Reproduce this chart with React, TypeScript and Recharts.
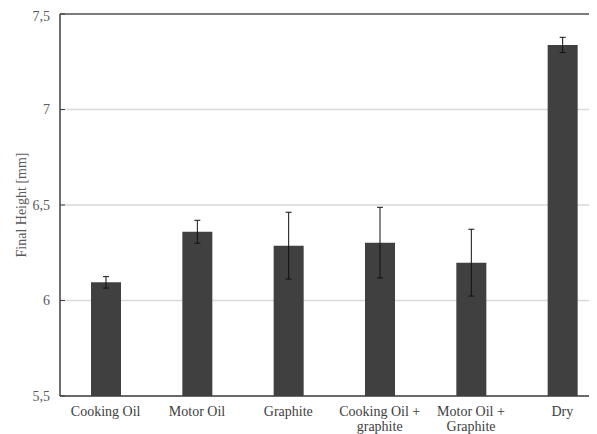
import React from "react";
import {
  BarChart,
  Bar,
  XAxis,
  YAxis,
  CartesianGrid,
  ErrorBar,
  ReferenceLine,
} from "recharts";

const categories = [
  "Cooking Oil",
  "Motor Oil",
  "Graphite",
  "Cooking Oil +\ngraphite",
  "Motor Oil +\nGraphite",
  "Dry",
];
const finalHeight = [6.095, 6.36, 6.287, 6.303, 6.198, 7.338];
const stdDev = [0.03, 0.06, 0.175, 0.185, 0.175, 0.04];
const yTicks = [5.5, 6, 6.5, 7, 7.5];

const data = categories.map((name, i) => ({
  name,
  height: finalHeight[i],
  err: stdDev[i],
}));

const FONT = "'Times New Roman', Tinos, 'Liberation Serif', 'DejaVu Serif', serif";

const fmt = (v: number) => String(v).replace(".", ",");

const CategoryTick = (props: any) => {
  const { x, y, payload } = props;
  const lines = String(payload.value).split("\n");
  return (
    <g transform={`translate(${x},${y})`}>
      {lines.map((line, i) => (
        <text
          key={i}
          x={0}
          y={12 + i * 15}
          textAnchor="middle"
          fill="#404040"
          fontSize={14}
          fontFamily={FONT}
        >
          {line}
        </text>
      ))}
    </g>
  );
};

const App = () => {
  return (
    <div style={{ width: 589, height: 426, overflow: "hidden" }}>
      <BarChart
        width={602}
        height={426}
        data={data}
        margin={{ top: 6, right: 2, left: 0, bottom: 0 }}
        barSize={30}
      >
        <CartesianGrid vertical={false} stroke="#d9d9d9" strokeWidth={1.5} />
        <XAxis
          dataKey="name"
          height={38}
          tickLine={false}
          axisLine={{ stroke: "#404040", strokeWidth: 1.5 }}
          interval={0}
          tick={<CategoryTick />}
        />
        <YAxis
          width={52}
          domain={[5.5, 7.5]}
          ticks={yTicks}
          tickFormatter={fmt}
          tickSize={-5}
          tickMargin={15}
          tickLine={{ stroke: "#404040" }}
          axisLine={{ stroke: "#404040", strokeWidth: 1.5 }}
          tick={{ fill: "#595959", fontSize: 14, fontFamily: FONT }}
          label={{
            value: "Final Height [mm]",
            angle: -90,
            position: "insideLeft",
            offset: 0,
            dx: 13,
            fill: "#595959",
            fontSize: 14,
            fontFamily: FONT,
            style: { textAnchor: "middle" },
          }}
        />
        <ReferenceLine y={7.5} stroke="#595959" strokeWidth={1.5} />
        <Bar dataKey="height" fill="#404040" isAnimationActive={false}>
          <ErrorBar
            dataKey="err"
            width={3}
            stroke="#111"
            strokeWidth={1}
            direction="y"
          />
        </Bar>
      </BarChart>
    </div>
  );
};

export default App;
